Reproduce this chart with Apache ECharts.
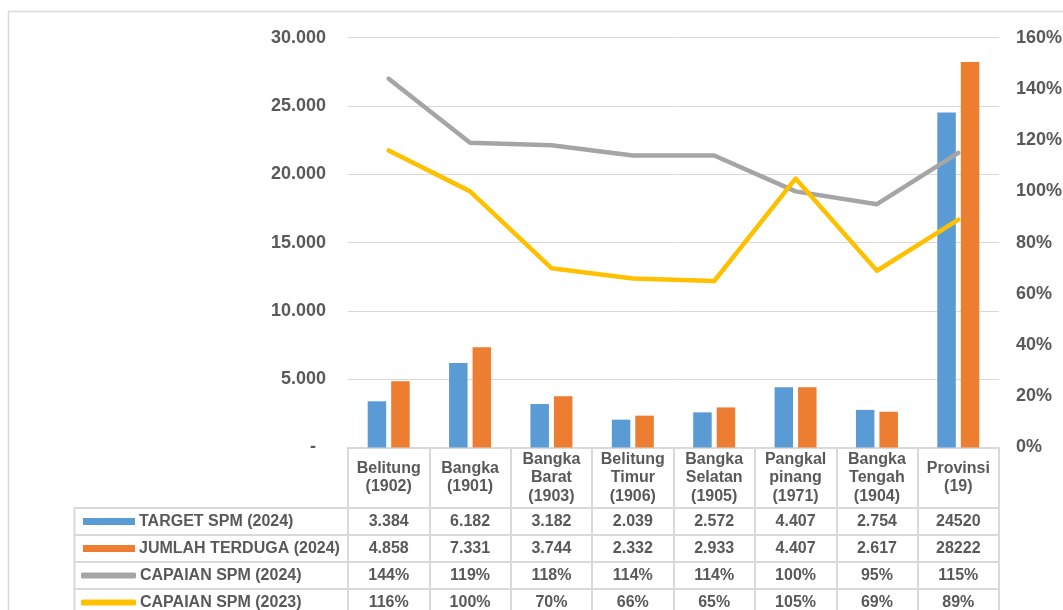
<!DOCTYPE html>
<html>
<head>
<meta charset="utf-8">
<script src="https://cdn.jsdelivr.net/npm/echarts@6/dist/echarts.min.js"></script>
<style>
  html, body { margin: 0; padding: 0; background: #ffffff; }
  #chart { width: 1063px; height: 610px; }
</style>
</head>
<body>
<div id="chart"></div>
<script>
// District / province columns (header text of the data table)
const categories = [
  'Belitung\n(1902)', 'Bangka\n(1901)', 'Bangka\nBarat\n(1903)', 'Belitung\nTimur\n(1906)',
  'Bangka\nSelatan\n(1905)', 'Pangkal\npinang\n(1971)', 'Bangka\nTengah\n(1904)', 'Provinsi\n(19)'
];
const seriesNames = ['TARGET SPM (2024)', 'JUMLAH TERDUGA (2024)', 'CAPAIAN SPM (2024)', 'CAPAIAN SPM (2023)'];
const targetSpm2024 = [3384, 6182, 3182, 2039, 2572, 4407, 2754, 24520];
const jumlahTerduga2024 = [4858, 7331, 3744, 2332, 2933, 4407, 2617, 28222];
const capaianSpm2024 = [1.44, 1.19, 1.18, 1.14, 1.14, 1.00, 0.95, 1.15];
const capaianSpm2023 = [1.16, 1.00, 0.70, 0.66, 0.65, 1.05, 0.69, 0.89];
// Axis ticks
const countTicks = { min: 0, max: 30000, interval: 5000 };
const pctTicks = { min: 0, max: 1.6, interval: 0.2 };

const FONT = '"Liberation Sans", Arial, sans-serif';
const TXT = '#595959';
const LINE = '#d9d9d9';
const COLORS = ['#5b9bd5', '#ed7d31', '#a5a5a5', '#ffc000'];

// Layout of the data table under the plot
const GRID_LEFT = 348, GRID_RIGHT = 999, GRID_TOP = 37.7, GRID_BOTTOM = 447.5;
const TABLE_LEFT = 74.5;
const HEADER_H = 60.5, ROW_H = 27;
const rowTops = [0, 1, 2, 3].map(k => GRID_BOTTOM + HEADER_H + k * ROW_H);

function dotThousands(v) {
  return String(v).replace(/\B(?=(\d{3})+(?!\d))/g, '.');
}
// the province total is printed without a separator
function fmtCount(v, i) {
  return i === categories.length - 1 ? String(v) : dotThousands(v);
}
function fmtPct(v) {
  return Math.round(v * 100) + '%';
}

const rowText = [
  i => fmtCount(targetSpm2024[i], i),
  i => fmtCount(jumlahTerduga2024[i], i),
  i => fmtPct(capaianSpm2024[i]),
  i => fmtPct(capaianSpm2023[i])
];

const labelFont = { fontFamily: FONT, fontWeight: 'bold', color: TXT };

const tableAxes = rowText.map((fn, k) => ({
  type: 'category',
  data: categories,
  position: 'bottom',
  offset: rowTops[k] - GRID_BOTTOM,
  axisLine: { show: true, onZero: false, lineStyle: { color: LINE, width: 2 } },
  axisTick: { show: false },
  splitLine: { show: false },
  axisLabel: {
    interval: 0, margin: 0, lineHeight: ROW_H, verticalAlign: 'top',
    fontSize: 16, ...labelFont,
    formatter: (v, i) => fn(i)
  }
}));

const chart = echarts.init(document.getElementById('chart'), null, { renderer: 'canvas' });

const option = {
  backgroundColor: '#ffffff',
  animation: false,
  grid: {
    left: GRID_LEFT, right: 1063 - GRID_RIGHT, top: GRID_TOP, bottom: 610 - GRID_BOTTOM,
    containLabel: false,
    outerBoundsMode: 'none'
  },
  xAxis: [
    {
      type: 'category',
      data: categories,
      position: 'bottom',
      axisLine: { show: true, onZero: false, lineStyle: { color: LINE, width: 2 } },
      axisTick: { show: true, interval: 0, length: HEADER_H + 4 * ROW_H + 2, lineStyle: { color: LINE, width: 2 } },
      splitLine: { show: false },
      axisLabel: {
        interval: 0, margin: HEADER_H / 2, verticalAlign: 'middle', lineHeight: 18.5,
        fontSize: 16, ...labelFont
      }
    },
    ...tableAxes
  ],
  yAxis: [
    {
      type: 'value',
      ...countTicks,
      position: 'left',
      axisLine: { show: false },
      axisTick: { show: false },
      splitLine: { show: true, lineStyle: { color: LINE, width: 1 } },
      axisLabel: {
        margin: 22, fontSize: 18, ...labelFont,
        formatter: v => v === 0 ? '{d|-}' : dotThousands(v),
        rich: { d: { fontSize: 18, ...labelFont, padding: [0, 10, 0, 0] } }
      }
    },
    {
      type: 'value',
      ...pctTicks,
      position: 'right',
      axisLine: { show: false },
      axisTick: { show: false },
      splitLine: { show: false },
      axisLabel: {
        margin: 17, fontSize: 18, ...labelFont,
        formatter: v => Math.round(v * 100) + '%'
      }
    }
  ],
  legend: seriesNames.map((name, k) => ({
    data: [{ name, icon: k < 2 ? 'rect' : 'roundRect' }],
    left: k < 2 ? 83 : 81,
    top: rowTops[k] + (ROW_H - 20) / 2,
    orient: 'horizontal',
    padding: 0,
    itemWidth: k < 2 ? 52 : 55,
    itemHeight: k < 2 ? 7 : 6,
    selectedMode: false,
    textStyle: { fontSize: 16, lineHeight: 20, ...labelFont, padding: [0, 0, 0, -1] }
  })),
  series: [
    {
      name: seriesNames[0], type: 'bar', xAxisIndex: 0, yAxisIndex: 0,
      data: targetSpm2024, barWidth: 18.5, barGap: '27%',
      itemStyle: { color: COLORS[0] }
    },
    {
      name: seriesNames[1], type: 'bar', xAxisIndex: 0, yAxisIndex: 0,
      data: jumlahTerduga2024, barWidth: 18.5, barGap: '27%',
      itemStyle: { color: COLORS[1] }
    },
    {
      name: seriesNames[2], type: 'line', xAxisIndex: 0, yAxisIndex: 1,
      data: capaianSpm2024, showSymbol: false, symbol: 'none', z: 5,
      itemStyle: { color: COLORS[2] },
      lineStyle: { color: COLORS[2], width: 4.5, cap: 'round', join: 'round' }
    },
    {
      name: seriesNames[3], type: 'line', xAxisIndex: 0, yAxisIndex: 1,
      data: capaianSpm2023, showSymbol: false, symbol: 'none', z: 6,
      itemStyle: { color: COLORS[3] },
      lineStyle: { color: COLORS[3], width: 4.5, cap: 'round', join: 'round' }
    }
  ],
  graphic: [
    // chart frame
    { type: 'rect', silent: true, z: -1,
      shape: { x: 8.5, y: 11.5, width: 1200, height: 800 },
      style: { fill: null, stroke: LINE, lineWidth: 1.5 } },
    // legend column of the data table
    { type: 'line', silent: true,
      shape: { x1: TABLE_LEFT, y1: rowTops[0], x2: TABLE_LEFT, y2: 620 },
      style: { stroke: LINE, lineWidth: 2 } },
    ...rowTops.map(y => ({
      type: 'line', silent: true,
      shape: { x1: TABLE_LEFT - 1, y1: y, x2: GRID_LEFT, y2: y },
      style: { stroke: LINE, lineWidth: 2 }
    }))
  ]
};

chart.setOption(option);
</script>
</body>
</html>
